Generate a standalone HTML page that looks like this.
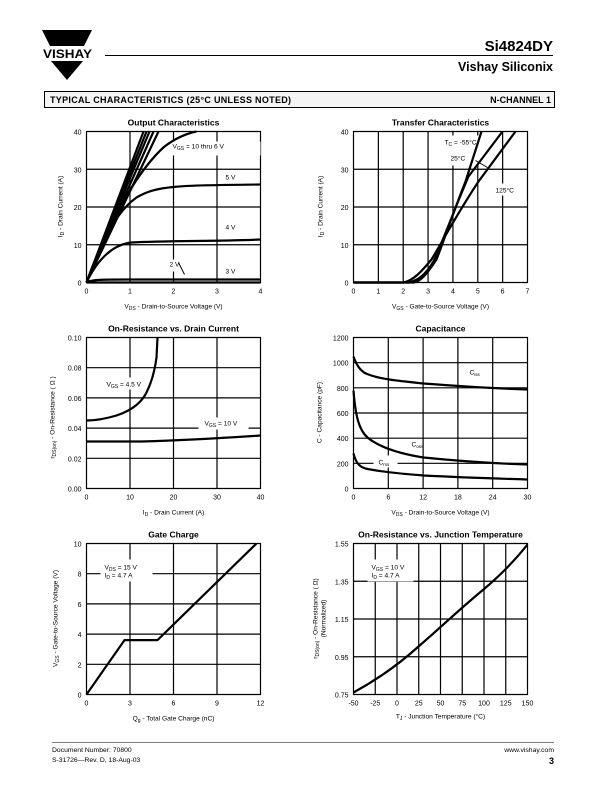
<!DOCTYPE html>
<html><head><meta charset="utf-8"><style>
html,body{margin:0;padding:0;background:#fff;}
svg{display:block;font-family:"Liberation Sans",Arial,sans-serif;}
.g{stroke:#000;stroke-width:1.2;fill:none}
.c{stroke:#000;stroke-width:2.2;fill:none;stroke-linejoin:round}
.t{font-size:7px;fill:#000}
.tt{font-size:8.5px;font-weight:bold;fill:#000}
.l{font-size:6.6px;fill:#000}
</style></head><body>
<svg width="612" height="792" viewBox="0 0 612 792">
<!-- header -->
<polygon points="42,30 92,30 84,46 50,46" fill="#000"/>
<text x="43" y="58" style="font-size:11.5px;font-weight:bold" textLength="49" lengthAdjust="spacingAndGlyphs">VISHAY</text>
<polygon points="51,61 83,61 67,80" fill="#000"/>
<line x1="105" y1="55.5" x2="553" y2="55.5" stroke="#000" stroke-width="1"/>
<text x="553" y="51" text-anchor="end" style="font-size:15px;font-weight:bold">Si4824DY</text>
<text x="553" y="71" text-anchor="end" style="font-size:12.5px;font-weight:bold">Vishay Siliconix</text>
<rect x="44.5" y="91.5" width="510" height="16" fill="#f4f4f4" stroke="#000" stroke-width="1"/>
<text x="50" y="103" style="font-size:9px;font-weight:bold;letter-spacing:0.3px">TYPICAL CHARACTERISTICS (25°C UNLESS NOTED)</text>
<text x="551" y="103" text-anchor="end" style="font-size:9px;font-weight:bold">N-CHANNEL 1</text>

<!-- Output Characteristics -->
<g transform="translate(86.5,131.5)">
<text class="tt" x="87" y="-6" text-anchor="middle">Output Characteristics</text>
<path class="g" d="M0,0H174V151H0Z M43.5,0V151 M87,0V151 M130.5,0V151 M0,37.75H174 M0,75.5H174 M0,113.25H174"/>
<rect x="84" y="10" width="90" height="14" fill="#fff"/>
<rect x="80" y="128" width="20" height="12" fill="#fff"/>
<path class="c" d="M0,151 L57,0 M0,151 L60,0 M0,151 L63,0 M0,151 L67,0 M0,151 L72,0"/>
<path class="c" d="M0,151 C20,95 50,40 78,15 C90,6 100,2 110,0"/>
<path class="c" d="M0,151 C15,110 30,80 50,66 C70,54 90,54 174,53"/>
<path class="c" d="M0,151 C10,130 25,113 45,111 C80,109 130,110 174,108"/>
<path class="c" d="M0,151 C5,148 15,148 40,148 L174,148"/>
<path class="c" d="M0,151 L174,151"/>
<path d="M92,131 L98,143" stroke="#000" stroke-width="1"/>
<text class="l" x="86" y="17">V<tspan font-size="5" dy="1.5">GS</tspan><tspan dy="-1.5"> = 10 thru 6 V</tspan></text>
<text class="l" x="139" y="48">5 V</text>
<text class="l" x="139" y="98">4 V</text>
<text class="l" x="139" y="142">3 V</text>
<text class="l" x="83" y="135">2 V</text>
<g class="t" text-anchor="end"><text x="-5" y="3">40</text><text x="-5" y="40.75">30</text><text x="-5" y="78.5">20</text><text x="-5" y="116.25">10</text><text x="-5" y="154">0</text></g>
<g class="t" text-anchor="middle"><text x="0" y="162">0</text><text x="43.5" y="162">1</text><text x="87" y="162">2</text><text x="130.5" y="162">3</text><text x="174" y="162">4</text></g>
<text class="l" x="87" y="177" text-anchor="middle">V<tspan font-size="5" dy="1.5">DS</tspan><tspan dy="-1.5">  -  Drain-to-Source Voltage (V)</tspan></text>
<text class="l" transform="translate(-24,75) rotate(-90)" text-anchor="middle">I<tspan font-size="5" dy="1.5">D</tspan><tspan dy="-1.5">  -  Drain Current (A)</tspan></text>
</g>

<!-- Transfer Characteristics -->
<g transform="translate(353.5,131.5)">
<text class="tt" x="87" y="-6" text-anchor="middle">Transfer Characteristics</text>
<path class="g" d="M0,0H174V151H0Z M24.86,0V151 M49.71,0V151 M74.57,0V151 M99.43,0V151 M124.29,0V151 M149.14,0V151 M0,37.75H174 M0,75.5H174 M0,113.25H174"/>
<rect x="86" y="4" width="42" height="30" fill="#fff"/>
<rect x="140" y="52" width="26" height="12" fill="#fff"/>
<path class="c" d="M0,151 L60,151 C68,150 75,140 83,128 C92,105 100,80 112,50 L128,0"/>
<path class="c" d="M0,151 L55,151 C65,149 72,143 80,130 C90,108 100,80 115,45 L149,0"/>
<path class="c" d="M0,151 L50,151 C60,149 68,140 78,128 C90,108 105,80 125,50 L162,0"/>
<path d="M122,29 L134,36" stroke="#000" stroke-width="1"/>
<text class="l" x="91" y="13">T<tspan font-size="5" dy="1.5">C</tspan><tspan dy="-1.5"> = -55°C</tspan></text>
<text class="l" x="97" y="29">25°C</text>
<text class="l" x="142" y="61">125°C</text>
<g class="t" text-anchor="end"><text x="-5" y="3">40</text><text x="-5" y="40.75">30</text><text x="-5" y="78.5">20</text><text x="-5" y="116.25">10</text><text x="-5" y="154">0</text></g>
<g class="t" text-anchor="middle"><text x="0" y="162">0</text><text x="24.86" y="162">1</text><text x="49.71" y="162">2</text><text x="74.57" y="162">3</text><text x="99.43" y="162">4</text><text x="124.29" y="162">5</text><text x="149.14" y="162">6</text><text x="174" y="162">7</text></g>
<text class="l" x="87" y="177" text-anchor="middle">V<tspan font-size="5" dy="1.5">GS</tspan><tspan dy="-1.5">  -  Gate-to-Source Voltage (V)</tspan></text>
<text class="l" transform="translate(-31,75) rotate(-90)" text-anchor="middle">I<tspan font-size="5" dy="1.5">D</tspan><tspan dy="-1.5">  -  Drain Current (A)</tspan></text>
</g>

<!-- On-Resistance vs Drain Current -->
<g transform="translate(86.5,337.5)">
<text class="tt" x="87" y="-6" text-anchor="middle">On-Resistance vs. Drain Current</text>
<path class="g" d="M0,0H174V151H0Z M43.5,0V151 M87,0V151 M130.5,0V151 M0,30.2H174 M0,60.4H174 M0,90.6H174 M0,120.8H174"/>
<rect x="18" y="40" width="40" height="12" fill="#fff"/>
<rect x="112" y="80" width="50" height="12" fill="#fff"/>
<path class="c" d="M0,83 C10,83 20,81 30,78 C45,73 55,65 60,55 C65,45 68,35 70,20 L71,0"/>
<path class="c" d="M0,104 L55,104 C90,103 130,101 174,98"/>
<text class="l" x="20" y="49">V<tspan font-size="5" dy="1.5">GS</tspan><tspan dy="-1.5"> = 4.5 V</tspan></text>
<text class="l" x="118" y="88">V<tspan font-size="5" dy="1.5">GS</tspan><tspan dy="-1.5"> = 10 V</tspan></text>
<g class="t" text-anchor="end"><text x="-5" y="3">0.10</text><text x="-5" y="33.2">0.08</text><text x="-5" y="63.4">0.06</text><text x="-5" y="93.6">0.04</text><text x="-5" y="123.8">0.02</text><text x="-5" y="154">0.00</text></g>
<g class="t" text-anchor="middle"><text x="0" y="162">0</text><text x="43.5" y="162">10</text><text x="87" y="162">20</text><text x="130.5" y="162">30</text><text x="174" y="162">40</text></g>
<text class="l" x="87" y="177" text-anchor="middle">I<tspan font-size="5" dy="1.5">D</tspan><tspan dy="-1.5">  -  Drain Current (A)</tspan></text>
<text class="l" transform="translate(-32,80) rotate(-90)" text-anchor="middle">r<tspan font-size="5" dy="1.5">DS(on)</tspan><tspan dy="-1.5">  -  On-Resistance ( Ω )</tspan></text>
</g>

<!-- Capacitance -->
<g transform="translate(353.5,337.5)">
<text class="tt" x="87" y="-6" text-anchor="middle">Capacitance</text>
<path class="g" d="M0,0H174V151H0Z M34.8,0V151 M69.6,0V151 M104.4,0V151 M139.2,0V151 M0,25.17H174 M0,50.33H174 M0,75.5H174 M0,100.67H174 M0,125.83H174"/>
<rect x="20" y="118" width="24" height="12" fill="#fff"/>
<path class="c" d="M0,19 C3,28 8,35 15,37 C25,41 40,43 70,46 C110,49 140,51 174,52"/>
<path class="c" d="M0,53 C2,80 6,93 14,100 C25,109 45,116 70,120 C110,124 140,126 174,127"/>
<path class="c" d="M0,116 C2,124 5,129 12,131 C25,134 45,136 70,138 C110,140 140,141 174,142"/>
<text class="l" x="116" y="37">C<tspan font-size="4.5" dy="1.5">iss</tspan></text>
<text class="l" x="58" y="109">C<tspan font-size="4.5" dy="1.5">oss</tspan></text>
<text class="l" x="25" y="127">C<tspan font-size="4.5" dy="1.5">rss</tspan></text>
<g class="t" text-anchor="end"><text x="-5" y="3">1200</text><text x="-5" y="28.2">1000</text><text x="-5" y="53.3">800</text><text x="-5" y="78.5">600</text><text x="-5" y="103.7">400</text><text x="-5" y="128.8">200</text><text x="-5" y="154">0</text></g>
<g class="t" text-anchor="middle"><text x="0" y="162">0</text><text x="34.8" y="162">6</text><text x="69.6" y="162">12</text><text x="104.4" y="162">18</text><text x="139.2" y="162">24</text><text x="174" y="162">30</text></g>
<text class="l" x="87" y="177" text-anchor="middle">V<tspan font-size="5" dy="1.5">DS</tspan><tspan dy="-1.5">  -  Drain-to-Source Voltage (V)</tspan></text>
<text class="l" transform="translate(-32,75) rotate(-90)" text-anchor="middle">C  -  Capacitance (pF)</text>
</g>

<!-- Gate Charge -->
<g transform="translate(86.5,543.5)">
<text class="tt" x="87" y="-6" text-anchor="middle">Gate Charge</text>
<path class="g" d="M0,0H174V151H0Z M43.5,0V151 M87,0V151 M130.5,0V151 M0,30.2H174 M0,60.4H174 M0,90.6H174 M0,120.8H174"/>
<rect x="14" y="16" width="52" height="22" fill="#fff"/>
<path class="c" d="M0,151 L38,96.6 L71,96.6 L170,0"/>
<text class="l" x="18" y="26">V<tspan font-size="5" dy="1.5">DS</tspan><tspan dy="-1.5"> = 15 V</tspan></text>
<text class="l" x="18" y="34">I<tspan font-size="5" dy="1.5">D</tspan><tspan dy="-1.5"> = 4.7  A</tspan></text>
<g class="t" text-anchor="end"><text x="-5" y="3">10</text><text x="-5" y="33.2">8</text><text x="-5" y="63.4">6</text><text x="-5" y="93.6">4</text><text x="-5" y="123.8">2</text><text x="-5" y="154">0</text></g>
<g class="t" text-anchor="middle"><text x="0" y="162">0</text><text x="43.5" y="162">3</text><text x="87" y="162">6</text><text x="130.5" y="162">9</text><text x="174" y="162">12</text></g>
<text class="l" x="87" y="177" text-anchor="middle">Q<tspan font-size="5" dy="1.5">g</tspan><tspan dy="-1.5">  -  Total Gate Charge (nC)</tspan></text>
<text class="l" transform="translate(-29,75) rotate(-90)" text-anchor="middle">V<tspan font-size="5" dy="1.5">GS</tspan><tspan dy="-1.5">  -  Gate-to-Source Voltage (V)</tspan></text>
</g>

<!-- On-Resistance vs Junction Temperature -->
<g transform="translate(353.5,543.5)">
<text class="tt" x="87" y="-6" text-anchor="middle">On-Resistance vs. Junction Temperature</text>
<path class="g" d="M0,0H174V151H0Z M21.75,0V151 M43.5,0V151 M65.25,0V151 M87,0V151 M108.75,0V151 M130.5,0V151 M152.25,0V151 M0,37.75H174 M0,75.5H174 M0,113.25H174"/>
<rect x="14" y="16" width="46" height="22" fill="#fff"/>
<path class="c" d="M0,149 C22,137 44,122 65,103 C87,84 108,64 130,46 C150,29 163,15 174,1"/>
<text class="l" x="18" y="26">V<tspan font-size="5" dy="1.5">GS</tspan><tspan dy="-1.5"> = 10 V</tspan></text>
<text class="l" x="18" y="34">I<tspan font-size="5" dy="1.5">D</tspan><tspan dy="-1.5"> = 4.7  A</tspan></text>
<g class="t" text-anchor="end"><text x="-5" y="3">1.55</text><text x="-5" y="40.75">1.35</text><text x="-5" y="78.5">1.15</text><text x="-5" y="116.25">0.95</text><text x="-5" y="154">0.75</text></g>
<g class="t" text-anchor="middle"><text x="0" y="162">-50</text><text x="21.75" y="162">-25</text><text x="43.5" y="162">0</text><text x="65.25" y="162">25</text><text x="87" y="162">50</text><text x="108.75" y="162">75</text><text x="130.5" y="162">100</text><text x="152.25" y="162">125</text><text x="174" y="162">150</text></g>
<text class="l" x="87" y="175" text-anchor="middle">T<tspan font-size="5" dy="1.5">J</tspan><tspan dy="-1.5"> - Junction Temperature (°C)</tspan></text>
<text class="l" transform="translate(-36,75) rotate(-90)" text-anchor="middle">r<tspan font-size="5" dy="1.5">DS(on)</tspan><tspan dy="-1.5">  -  On-Resistance ( Ω)</tspan></text>
<text class="l" transform="translate(-28,75) rotate(-90)" text-anchor="middle">(Normalized)</text>
</g>

<!-- footer -->
<line x1="52" y1="742.5" x2="554" y2="742.5" stroke="#000" stroke-width="0.6"/>
<text x="52" y="752" style="font-size:6.8px">Document Number:  70800</text>
<text x="52" y="762" style="font-size:6.8px">S-31726—Rev. D, 18-Aug-03</text>
<text x="554" y="752" text-anchor="end" style="font-size:6.8px">www.vishay.com</text>
<text x="554" y="764" text-anchor="end" style="font-size:9px;font-weight:bold">3</text>
</svg>
</body></html>
